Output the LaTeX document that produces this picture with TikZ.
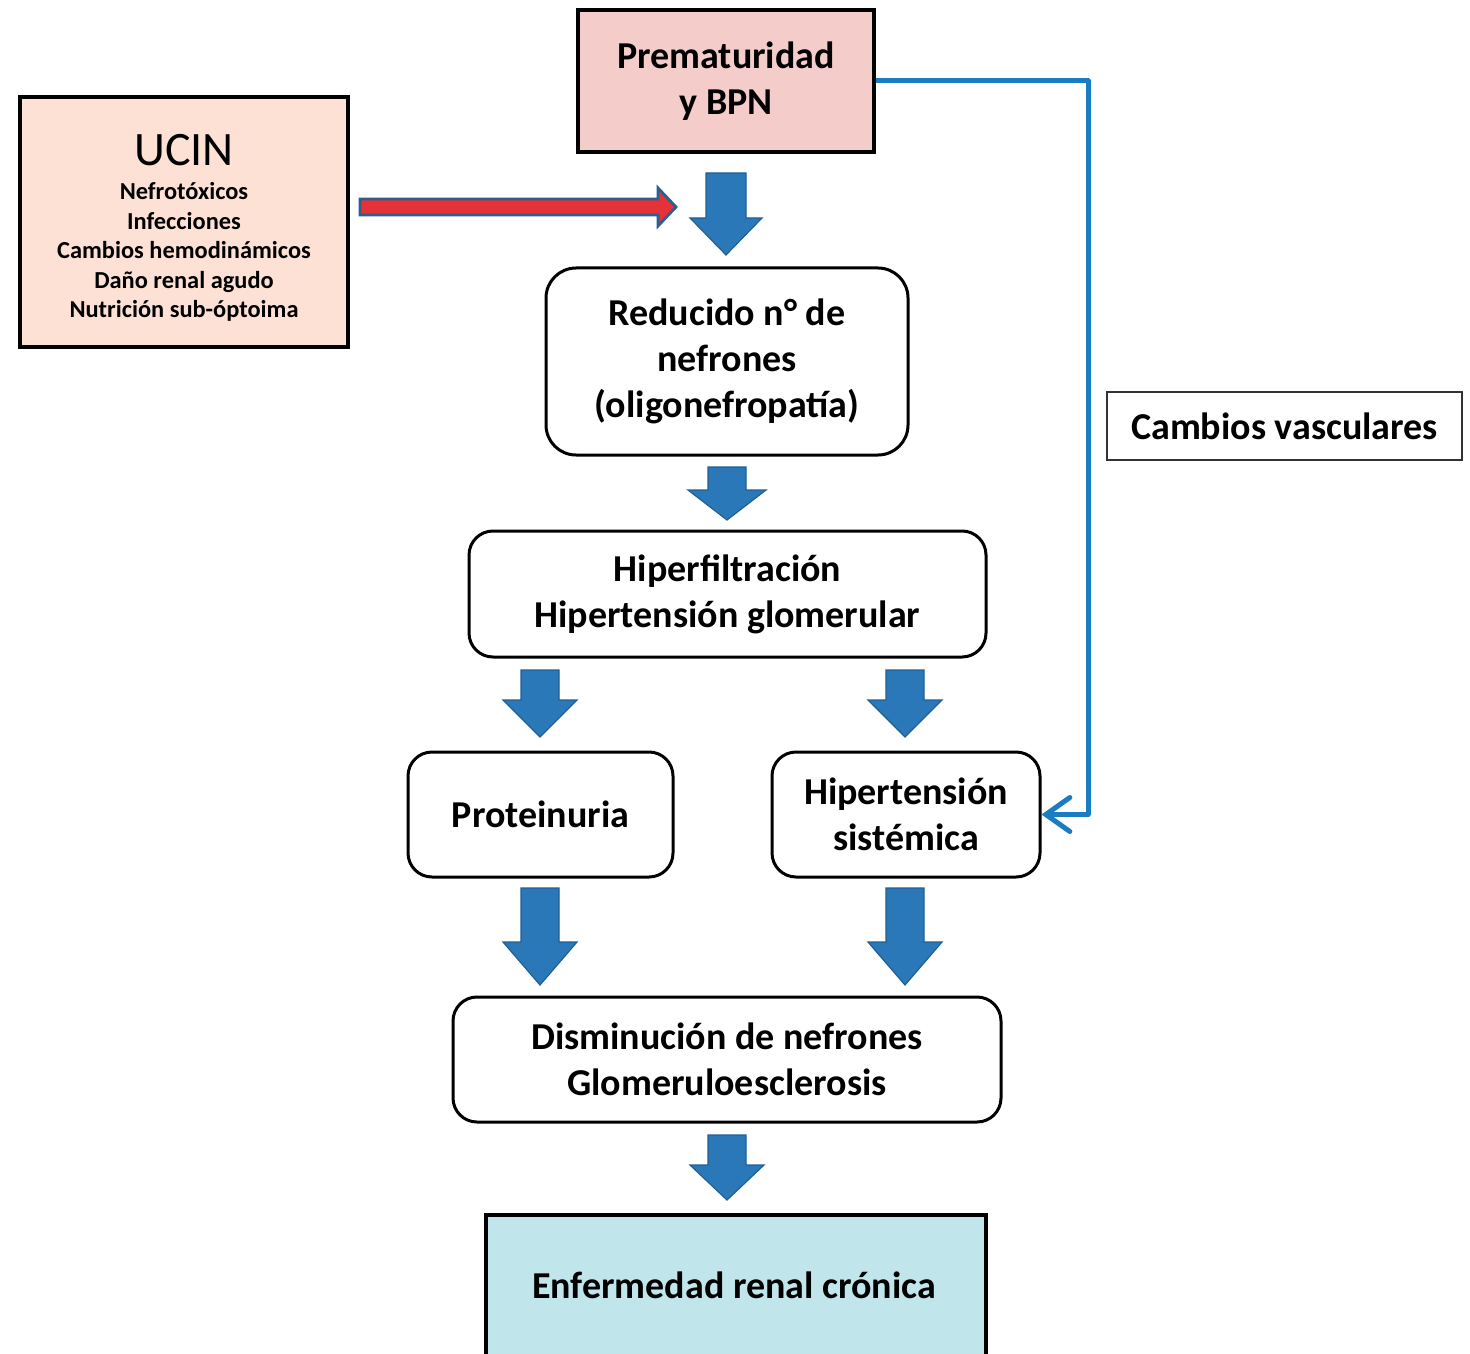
\documentclass[tikz,border=0pt]{standalone}
\usepackage{fontspec}
\setmainfont{Carlito}
\usetikzlibrary{arrows.meta}
\definecolor{prefill}{HTML}{F4CCCA}
\definecolor{ucinfill}{HTML}{FCE1D4}
\definecolor{ercfill}{HTML}{C0E5EB}
\definecolor{barblue}{HTML}{2B78B8}
\definecolor{barline}{HTML}{205F96}
\definecolor{linkblue}{HTML}{1A7DC2}
\definecolor{redfill}{HTML}{E53238}
\definecolor{redline}{HTML}{2E5E8E}
\newcommand{\blockarrow}[6]{%
  \fill[barblue, draw=barline, line width=0.6pt, line join=miter]
   ({#1-#5},#2) -- ({#1+#5},#2) -- ({#1+#5},#4) -- ({#1+#6},#4) -- (#1,#3)
   -- ({#1-#6},#4) -- ({#1-#5},#4) -- cycle;}
\begin{document}
\begin{tikzpicture}[x=0.5pt,y=-0.5pt,
  box/.style={draw=black, line width=1.6pt, align=center, inner sep=0pt,
    font=\bfseries\fontsize{19}{23}\selectfont},
  rbox/.style={box, line width=1.5pt, rounded corners=12pt},
  small/.style={align=center, inner sep=0pt, font=\bfseries\fontsize{12.2}{14.75}\selectfont},
  conn/.style={draw=linkblue, line width=2.5pt, line join=round,
    -{Straight Barb[length=12pt,width=17pt,line cap=round]}}]
\useasboundingbox (0,0) rectangle (1470,1353);
\clip (0,0) rectangle (1470,1353);

% boxes
\node[box, fill=prefill, minimum width=148pt, minimum height=71pt] (pre) at (726,81) {Prematuridad\\y BPN};
\node[box, line width=2pt, fill=ucinfill, minimum width=164pt, minimum height=125pt] (ucin) at (184,222) {};
\node[inner sep=0pt, font=\fontsize{24}{28}\selectfont] (ucinT) at (184,150) {UCIN};
\node[small] (ucinL) at (184,252) {Nefrotóxicos\\Infecciones\\Cambios hemodinámicos\\Daño renal agudo\\Nutrición sub-óptoima};
\node[rbox, rounded corners=15pt, minimum width=181pt, minimum height=93.5pt] (red) at (727,361.5) {Reducido n° de\\nefrones\\(oligonefropatía)};
\node[rbox, minimum width=258.5pt, minimum height=63pt] (hf) at (727.5,594) {Hiperfiltración\\Hipertensión glomerular};
\node[rbox, minimum width=132.5pt, minimum height=62.5pt] (prot) at (540.5,814.5) {Proteinuria};
\node[rbox, minimum width=134pt, minimum height=62.5pt] (hip) at (906,814.5) {Hipertensión\\sistémica};
\node[rbox, minimum width=274pt, minimum height=62.5pt] (dis) at (727,1059.5) {Disminución de nefrones\\Glomeruloesclerosis};
\node[box, line width=2pt, fill=ercfill, minimum width=250pt, minimum height=75pt] (erc) at (736,1290) {};
\node[inner sep=0pt, font=\bfseries\fontsize{19}{23}\selectfont] (ercT) at (734,1285) {Enfermedad renal crónica};
\node[box, draw=black!80, line width=1pt, minimum width=177.5pt, minimum height=34pt] (cv) at (1284.5,426) {Cambios vasculares};

% red arrow
\filldraw[fill=redfill, draw=redline, line width=1.4pt, line join=miter]
  (360,199) -- (658,199) -- (658,188) -- (676,207) -- (658,226) -- (658,215) -- (360,215) -- cycle;

% block arrows
\blockarrow{726}{173}{255}{218}{20}{36}
\blockarrow{727}{467}{520}{490}{19}{39}
\blockarrow{540}{670}{737}{700}{19}{37}
\blockarrow{905}{670}{737}{700}{19}{37}
\blockarrow{540}{888}{985}{942}{19}{37}
\blockarrow{905}{888}{985}{942}{19}{37}
\blockarrow{727}{1135}{1200}{1165}{19}{37}

% blue connector
\coordinate (c1) at (1088,81);
\coordinate (c2) at (1088,814.5);
\draw[conn] (pre.east) -- (c1) -- (c2) -- (hip.east);
\end{tikzpicture}
\end{document}
